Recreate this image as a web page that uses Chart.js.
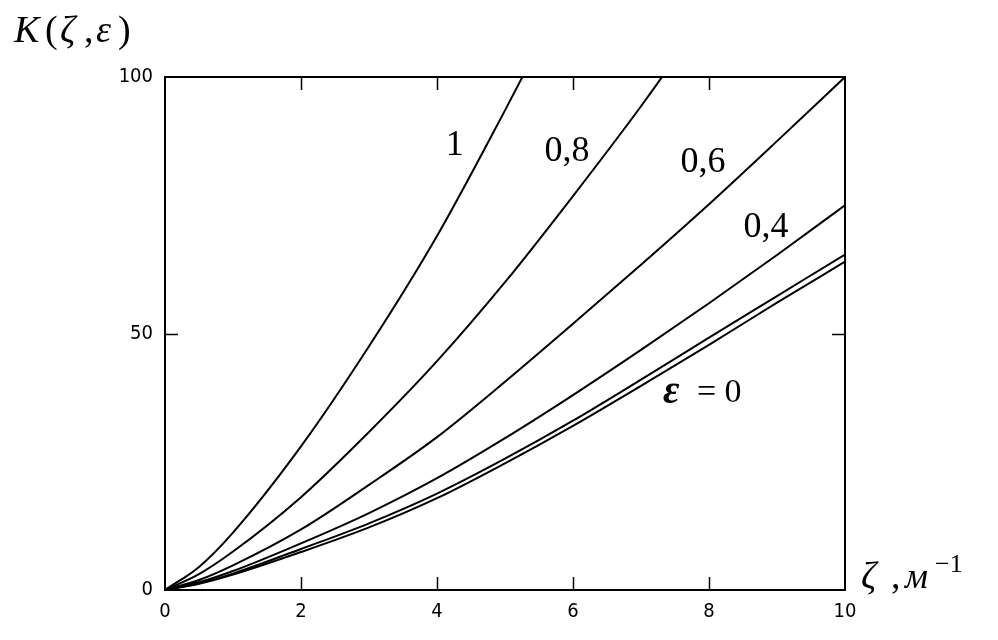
<!DOCTYPE html>
<html>
<head>
<meta charset="utf-8">
<script src="https://cdn.jsdelivr.net/npm/chart.js@4/dist/chart.umd.min.js"></script>
<style>
  html,body{margin:0;padding:0;background:#fff;}
  #wrap{position:relative;width:998px;height:640px;}
</style>
</head>
<body>
<div id="wrap"><canvas id="c" width="998" height="640"></canvas></div>
<script>
// ---- data (curves leaving the top are clipped at 100) ----
const zetaEps1  = [0,0.5,1,2,3,4,5,6];
const kEps1     = [0,4.5,11.2,28,47.5,69,93.5,119];
const zetaEps08 = [0,0.5,1,2,3,4,5,6,7,8];
const kEps08    = [0,3.1,7.5,18.1,30.8,44.6,60.0,76.8,94.3,113];
const zetaFull  = [0,0.5,1,2,3,4,5,6,7,8,9,10];
const kEps06 = [0,1.95,4.8,11.8,20.5,29.8,40.6,51.9,63.4,75.2,87.5,100];
const kEps04 = [0,1.5,3.7,9.1,15.0,21.8,29.6,38.0,46.8,55.9,65.3,75];
const kEps02 = [0,1.3,3.2,8.0,13.0,18.8,25.6,33.0,41.0,49.2,57.3,65.4];
const kEps0  = [0,1.2,3.0,7.4,12.2,17.9,24.7,32.0,39.8,47.8,56.0,64.0];
const xTicks = [0,2,4,6,8,10];
const yTicks = [0,50,100];
// curve labels: text and anchor in data coordinates
const curveLabels = ['1','0,8','0,6','0,4'];
const curveLabelZeta = [4.26,5.91,7.91,8.84];
const curveLabelK    = [86.7,85.4,83.4,70.6];

const pts = (xs, ys) => xs.map((x,i)=>({x:x, y:ys[i]}));
const mk = (d) => ({data:d, borderColor:'#000', borderWidth:2, pointRadius:0, fill:false, cubicInterpolationMode:'monotone'});

const tickFont = {family:"'DejaVu Sans Condensed','Liberation Sans Narrow','Liberation Sans',sans-serif", size:20};

const decor = {
  id:'decor',
  afterDraw(chart){
    const ctx = chart.ctx, a = chart.chartArea;
    const xs = chart.scales.x, ys = chart.scales.y;
    ctx.save();
    ctx.strokeStyle = '#000';
    ctx.lineWidth = 2;
    ctx.strokeRect(a.left, a.top, a.right-a.left, a.bottom-a.top);
    ctx.lineWidth = 1.5;
    const L = 13;
    xTicks.forEach(v=>{
      if (v===xTicks[0] || v===xTicks[xTicks.length-1]) return;
      const px = Math.round(xs.getPixelForValue(v))+0.5;
      ctx.beginPath();
      ctx.moveTo(px, a.bottom); ctx.lineTo(px, a.bottom-L);
      ctx.moveTo(px, a.top); ctx.lineTo(px, a.top+L);
      ctx.stroke();
    });
    yTicks.forEach(v=>{
      if (v===yTicks[0] || v===yTicks[yTicks.length-1]) return;
      const py = Math.round(ys.getPixelForValue(v))+0.5;
      ctx.beginPath();
      ctx.moveTo(a.left, py); ctx.lineTo(a.left+L, py);
      ctx.moveTo(a.right, py); ctx.lineTo(a.right-L, py);
      ctx.stroke();
    });
    ctx.fillStyle = '#000';
    ctx.textAlign = 'center';
    ctx.textBaseline = 'middle';
    ctx.font = "36px 'Liberation Serif', 'DejaVu Serif', serif";
    curveLabels.forEach((t,i)=>{
      ctx.fillText(t, xs.getPixelForValue(curveLabelZeta[i]), ys.getPixelForValue(curveLabelK[i]));
    });
    // epsilon = 0 label
    const ex = xs.getPixelForValue(7.94), ey = ys.getPixelForValue(38.4);
    ctx.textAlign = 'left';
    ctx.font = "bold italic 40px 'Liberation Serif', serif";
    ctx.fillText('\u03b5', ex-42, ey);
    ctx.font = "34px 'Liberation Serif', serif";
    ctx.fillText('= 0', ex-8, ey);
    // axis titles
    ctx.textBaseline = 'alphabetic';
    const by = 42;
    ctx.font = "italic 38px 'Liberation Serif', serif";
    ctx.fillText('K', 14, by);
    ctx.font = "38px 'Liberation Serif', serif";
    ctx.fillText('(', 45, by);
    ctx.font = "italic 38px 'Liberation Serif', serif";
    ctx.fillText('\u03b6', 60, by);
    ctx.font = "38px 'Liberation Serif', serif";
    ctx.fillText(',', 84, by);
    ctx.font = "italic 38px 'Liberation Serif', serif";
    ctx.fillText('\u03b5', 96, by);
    ctx.font = "38px 'Liberation Serif', serif";
    ctx.fillText(')', 118, by);
    // x title
    const tx = a.right + 16, ty = a.bottom - 2;
    ctx.font = "italic 38px 'Liberation Serif', serif";
    ctx.fillText('\u03b6', tx, ty);
    ctx.font = "38px 'Liberation Serif', serif";
    ctx.fillText(',', tx+30, ty);
    ctx.font = "italic 36px 'Liberation Serif', serif";
    ctx.fillText('\u043c', tx+44, ty);
    ctx.font = "26px 'Liberation Serif', serif";
    ctx.fillText('\u22121', tx+74, ty-16);
    ctx.restore();
  }
};

new Chart(document.getElementById('c'), {
  type:'line',
  data:{
    datasets:[
      mk(pts(zetaEps1,kEps1)),
      mk(pts(zetaEps08,kEps08)),
      mk(pts(zetaFull,kEps06)),
      mk(pts(zetaFull,kEps04)),
      mk(pts(zetaFull,kEps02)),
      mk(pts(zetaFull,kEps0))
    ]
  },
  options:{
    responsive:false,
    animation:false,
    events:[],
    layout:{padding:{top:77, right:153, left:0, bottom:0}},
    plugins:{legend:{display:false}, tooltip:{enabled:false}},
    scales:{
      x:{
        type:'linear', min:0, max:10,
        afterBuildTicks(s){ s.ticks = xTicks.map(v=>({value:v})); },
        afterFit(s){ s.height = 50; },
        ticks:{color:'#000', font:tickFont, padding:10, maxRotation:0,
               callback:(v)=>String(v)},
        grid:{display:true, drawOnChartArea:false, drawTicks:false},
        border:{display:true, color:'#000', width:2}
      },
      y:{
        type:'linear', min:0, max:100,
        afterBuildTicks(s){ s.ticks = yTicks.map(v=>({value:v})); },
        afterFit(s){ s.width = 165; },
        ticks:{color:'#000', font:tickFont, padding:12, callback:(v)=>String(v)},
        grid:{display:true, drawOnChartArea:false, drawTicks:false},
        border:{display:true, color:'#000', width:2}
      }
    }
  },
  plugins:[decor]
});
</script>
</body>
</html>
